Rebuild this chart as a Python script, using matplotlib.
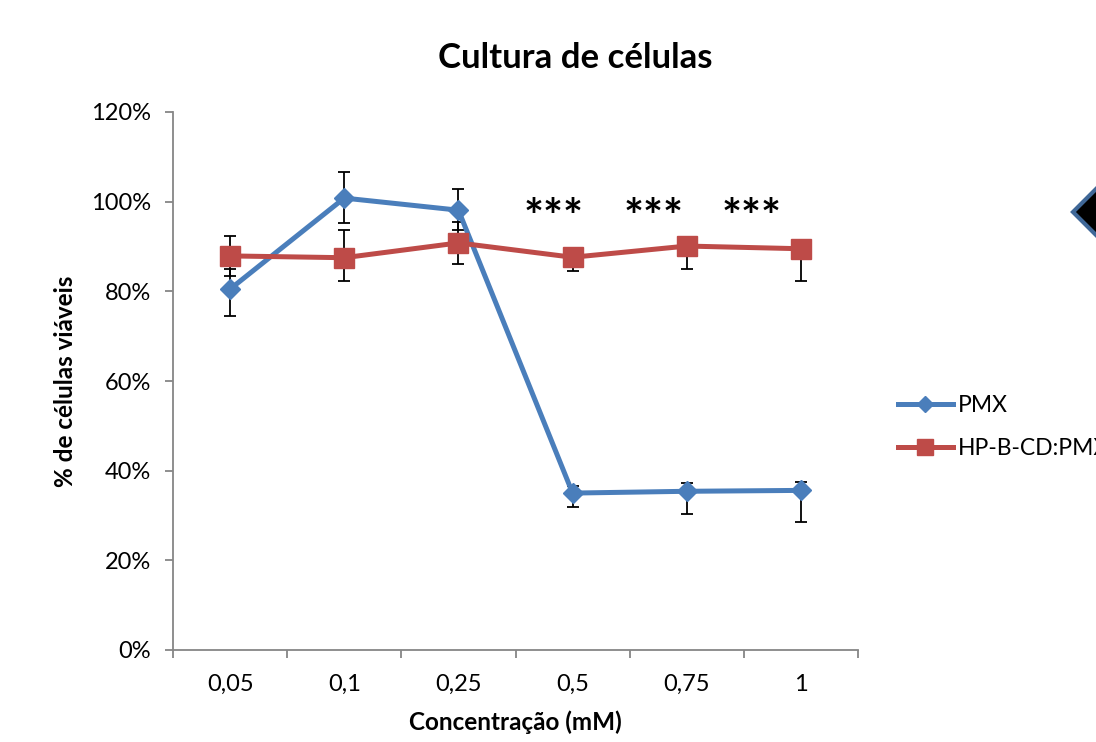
import numpy as np
import matplotlib
matplotlib.use("Agg")
import matplotlib.pyplot as plt
from matplotlib.patches import Polygon

plt.rcParams["font.family"] = ["Lato", "DejaVu Sans"]

# data (% viable cells)
concentrations = ["0,05", "0,1", "0,25", "0,5", "0,75", "1"]
pmx = [80.5, 100.8, 98.1, 35.0, 35.4, 35.6]
pmx_err_low = [6.0, 5.5, 4.5, 3.2, 5.0, 7.0]
pmx_err_high = [4.5, 5.9, 4.7, 1.5, 1.8, 1.8]
cd_pmx = [87.9, 87.5, 90.8, 87.6, 90.1, 89.5]
cd_err_low = [4.4, 5.3, 4.7, 3.0, 5.1, 7.1]
cd_err_high = [4.4, 6.1, 4.7, 1.5, 1.5, 1.5]
star_x = [2.83, 3.71, 4.57]
star_y = 96.2

BLUE = "#4A7EBB"
RED = "#BE4B48"
GRAY = "#868686"

fig = plt.figure(figsize=(10.96, 7.42), dpi=100)
ax = fig.add_axes([173 / 1096, 92 / 742, 685 / 1096, 538 / 742])

x = np.arange(len(concentrations))

ax.errorbar(x, pmx, yerr=[pmx_err_low, pmx_err_high], fmt="none",
            ecolor="black", elinewidth=1.3, capsize=4.5, capthick=1.3, zorder=2)
ax.errorbar(x, cd_pmx, yerr=[cd_err_low, cd_err_high], fmt="none",
            ecolor="black", elinewidth=1.3, capsize=4.5, capthick=1.3, zorder=2)
ax.plot(x, pmx, color=BLUE, lw=3.6, marker="D", ms=10.5, label="PMX", zorder=3)
ax.plot(x, cd_pmx, color=RED, lw=3.6, marker="s", ms=14, label="HP-B-CD:PMX", zorder=4)

for sx in star_x:
    ax.text(sx, star_y, "***", ha="center", va="center", fontsize=34,
            fontweight="bold")

ax.set_xlim(-0.5, len(concentrations) - 0.5)
ax.set_ylim(0, 120)
ax.set_yticks(np.arange(0, 121, 20))
ax.set_yticklabels([f"{v}%" for v in range(0, 121, 20)])
ax.set_xticks(x)
ax.set_xticklabels(concentrations)
ax.set_xticks(np.arange(-0.5, len(concentrations)), minor=True)

ax.tick_params(axis="x", which="major", length=0, pad=17, labelsize=17)
ax.tick_params(axis="x", which="minor", length=6, width=1.3, color=GRAY, direction="out")
ax.tick_params(axis="y", length=6, width=1.3, color=GRAY, pad=10, labelsize=17)

for side in ["top", "right"]:
    ax.spines[side].set_visible(False)
for side in ["left", "bottom"]:
    ax.spines[side].set_color(GRAY)
    ax.spines[side].set_linewidth(1.3)

ax.set_xlabel("Concentração (mM)", fontsize=17.5, fontweight="bold")
ax.xaxis.set_label_coords(0.5, -0.113)
ax.set_ylabel("% de células viáveis", fontsize=17.5, fontweight="bold")
ax.yaxis.set_label_coords(-0.14, 0.5)

fig.text(575 / 1096, 1 - 68 / 742, "Cultura de células", ha="center",
         va="baseline", fontsize=25, fontweight="bold")

ax.legend(loc="center left", bbox_to_anchor=(877 / 1096, 1 - 427 / 742),
          bbox_transform=fig.transFigure, frameon=False, fontsize=16.5,
          handlelength=2.4, handletextpad=0.22, labelspacing=1.0,
          markerscale=0.8)

# stray shape cut off at the right edge of the original image
cx, cy, r = 1113, 212, 40
pts = [(cx - r, cy), (cx, cy - r), (cx + r, cy), (cx, cy + r)]
pts = [(px / 1096, 1 - py / 742) for px, py in pts]
fig.add_artist(Polygon(pts, closed=True, transform=fig.transFigure,
                       facecolor="black", edgecolor="#3F6797", lw=3))

fig.savefig("out.png", dpi=100)
